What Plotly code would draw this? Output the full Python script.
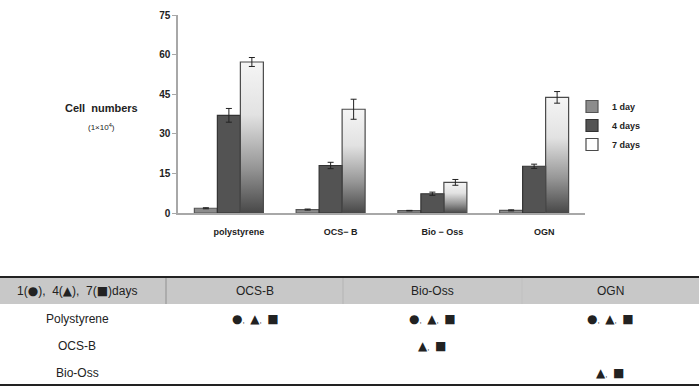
import base64
import plotly.graph_objects as go

# ---------------- data ----------------
categories = ["polystyrene", "OCS\u2212 B", "Bio \u2212 Oss", "OGN"]
series_names = ["1 day", "4 days", "7 days"]
day1 = [1.8, 1.3, 0.9, 1.0]
day4 = [37.0, 18.0, 7.3, 17.7]
day7 = [57.2, 39.3, 11.6, 43.8]
err1 = [0.2, 0.2, 0.1, 0.2]
err4 = [2.6, 1.2, 0.6, 0.8]
err7 = [1.7, 3.8, 1.1, 2.2]
y_ticks = [0, 15, 30, 45, 60, 75]

CIRCLE, TRI, SQ = "\u25cf", "\u25b2", "\u25a0"
table_header = ["1({c}),  4({t}),  7({s})days", "OCS-B", "Bio-Oss", "OGN"]
table_rows = ["Polystyrene", "OCS-B", "Bio-Oss"]
table_cells = [
    [[CIRCLE, TRI, SQ], [CIRCLE, TRI, SQ], [CIRCLE, TRI, SQ]],
    [[], [TRI, SQ], []],
    [[], [], [TRI, SQ]],
]

# ---------------- layout helpers ----------------
W, H = 699, 392
FONT = "Liberation Sans, Arial, sans-serif"
SYMFONT = "DejaVu Sans"
SYM_SIZE = {CIRCLE: 12, TRI: 12, SQ: 12}


def px_x(p):
    return p / W


def px_y(p):
    return 1 - p / H


def sym(s):
    return "<span style=\"font-family:'%s';font-size:%dpx\">%s</span>" % (SYMFONT, SYM_SIZE[s], s)


bar_w = 0.226
offsets = [-1.5 * bar_w, -0.5 * bar_w, 0.5 * bar_w]
xpos = list(range(len(categories)))

fig = go.Figure()

fig.add_trace(go.Bar(
    name=series_names[0], x=xpos, y=day1, width=bar_w, offset=offsets[0],
    marker=dict(color="#8c8c8c", line=dict(color="#555555", width=1.2)),
    error_y=dict(type="data", array=err1, color="#222222", thickness=1, width=3),
))
fig.add_trace(go.Bar(
    name=series_names[1], x=xpos, y=day4, width=bar_w, offset=offsets[1],
    marker=dict(color="#535353", line=dict(color="#333333", width=1.2)),
    error_y=dict(type="data", array=err4, color="#222222", thickness=1, width=3),
))
fig.add_trace(go.Bar(
    name=series_names[2], x=xpos, y=day7, width=bar_w, offset=offsets[2],
    marker=dict(color="rgba(255,255,255,0)", line=dict(color="#4a4a4a", width=1.2)),
    error_y=dict(type="data", array=err7, color="#222222", thickness=1, width=3),
))

# gradient fill for the 7-day bars (decorative image stretched under each bar)
svg = (
    '<svg xmlns="http://www.w3.org/2000/svg" width="20" height="200" viewBox="0 0 20 200" preserveAspectRatio="none">'
    '<defs><linearGradient id="g" x1="0" y1="0" x2="0" y2="1">'
    '<stop offset="0" stop-color="#f5f5f5"/>'
    '<stop offset="0.35" stop-color="#e2e2e2"/>'
    '<stop offset="0.7" stop-color="#969696"/>'
    '<stop offset="1" stop-color="#484848"/>'
    '</linearGradient></defs>'
    '<rect x="0" y="0" width="20" height="200" fill="url(#g)"/></svg>'
)
svg_uri = "data:image/svg+xml;base64," + base64.b64encode(svg.encode()).decode()
images = []
for i, v in zip(xpos, day7):
    images.append(dict(
        source=svg_uri, xref="x", yref="y", x=i + offsets[2], y=v,
        sizex=bar_w, sizey=v, xanchor="left", yanchor="top",
        sizing="stretch", layer="below",
    ))

shapes = []
annotations = []


def note(text, x, y, font):
    annotations.append(dict(text=text, xref="paper", yref="paper",
                            x=px_x(x), y=px_y(y), xanchor="center", yanchor="middle",
                            showarrow=False, font=font))


# y-axis title
note("<b>Cell  numbers</b>", 101, 108, dict(family=FONT, size=11, color="#222"))
note("(1\u00d710<sup>4</sup>)", 101, 127, dict(family=FONT, size=8, color="#222"))

# ---------------- table ----------------
col_edges = [0, 166, 343, 522, 699]
col_centers = [77, 255, 432, 610]
header_top, header_bot = 277, 304
row_y = [319, 346, 373]
header_y = 291
table_bottom = 385

shapes.append(dict(type="rect", xref="paper", yref="paper",
                   x0=0, x1=1, y0=px_y(header_bot), y1=px_y(header_top),
                   fillcolor="#c8c8c8", line=dict(width=0), layer="below"))
for k, xe in enumerate(col_edges[1:-1]):
    shapes.append(dict(type="line", xref="paper", yref="paper",
                       x0=px_x(xe), x1=px_x(xe), y0=px_y(header_bot), y1=px_y(header_top),
                       line=dict(color=["#909090", "#b4b4b4", "#c0c0c0"][k], width=1)))
shapes.append(dict(type="line", xref="paper", yref="paper", x0=0, x1=1,
                   y0=px_y(header_top), y1=px_y(header_top),
                   line=dict(color="#222222", width=2)))
shapes.append(dict(type="line", xref="paper", yref="paper", x0=0, x1=1,
                   y0=px_y(table_bottom), y1=px_y(table_bottom),
                   line=dict(color="#222222", width=2)))

tfont = dict(family=FONT, size=12, color="#222")
header0 = table_header[0].format(c=sym(CIRCLE), t=sym(TRI), s=sym(SQ))
note(header0, col_centers[0], header_y, tfont)
for c, txt in enumerate(table_header[1:]):
    note(txt, col_centers[c + 1], header_y, tfont)
for r, lab in enumerate(table_rows):
    note(lab, col_centers[0], row_y[r], tfont)
    for c, syms in enumerate(table_cells[r]):
        if syms:
            txt = "<span style='font-size:8px'>, </span> ".join(sym(s) for s in syms)
            note(txt, col_centers[c + 1], row_y[r], tfont)

fig.update_layout(
    width=W, height=H, autosize=False,
    margin=dict(l=0, r=0, t=0, b=0, pad=0, autoexpand=False),
    paper_bgcolor="white", plot_bgcolor="white",
    barmode="overlay",
    showlegend=True,
    legend=dict(x=px_x(572), y=px_y(92), xanchor="left", yanchor="top",
                font=dict(family=FONT, size=9, color="#222", weight="bold"),
                bgcolor="rgba(0,0,0,0)", itemwidth=30, tracegroupgap=0),
    xaxis=dict(domain=[px_x(178), px_x(585)], range=[-0.5, 3.5],
               tickmode="array", tickvals=xpos, ticktext=categories,
               showline=True, linecolor="#a8a8a8", linewidth=1.5,
               ticks="", showgrid=False, zeroline=False, automargin=False,
               ticklabelshift=10, ticklabelstandoff=9,
               tickfont=dict(family=FONT, size=9, color="#222", weight="bold"),
               fixedrange=True),
    yaxis=dict(domain=[px_y(213), px_y(15)], range=[0, 75],
               tickmode="array", tickvals=y_ticks,
               showline=True, linecolor="#a8a8a8", linewidth=1.5,
               ticks="outside", ticklen=4, tickcolor="#a8a8a8",
               showgrid=False, zeroline=False, automargin=False,
               tickfont=dict(family=FONT, size=10, color="#222", weight="bold"),
               fixedrange=True),
    shapes=shapes, annotations=annotations, images=images,
)

fig.write_html("out.html")
